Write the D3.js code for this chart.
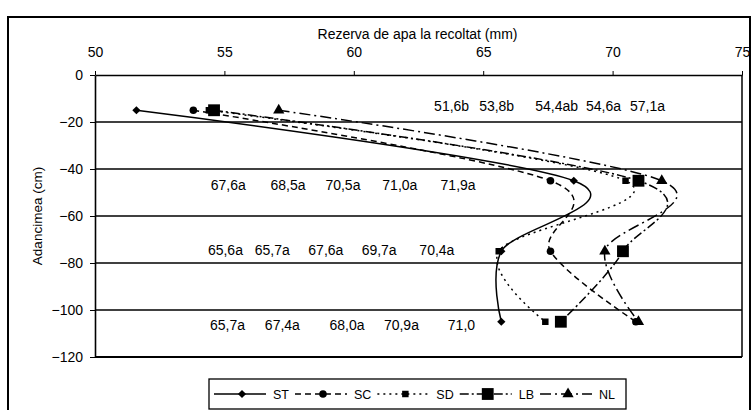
<!DOCTYPE html>
<html>
<head>
<meta charset="utf-8">
<script src="https://cdn.jsdelivr.net/npm/d3@7"></script>
<style>
  html, body { margin: 0; padding: 0; background: #fff; }
  svg text { font-family: "Liberation Sans", Arial, sans-serif; fill: #000; }
</style>
</head>
<body>
<svg id="chart" width="753" height="410"></svg>
<script>
// ---- data ----
const depths = [-15, -45, -75, -105];
const seriesNames = ["ST", "SC", "SD", "LB", "NL"];
const ST = [51.6, 68.5, 65.7, 65.7];
const SC = [53.8, 67.6, 67.6, 70.9];
const SD = [54.4, 70.5, 65.6, 67.4];
const LB = [54.6, 71.0, 70.4, 68.0];
const NL = [57.1, 71.9, 69.7, 71.0];
const xTicks = [50, 55, 60, 65, 70, 75];
const yTicks = [0, -20, -40, -60, -80, -100, -120];
const xTitle = "Rezerva de apa la recoltat (mm)";
const yTitle = "Adancimea (cm)";
// annotation texts per depth row
const labels15 = ["51,6b", "53,8b", "54,4ab", "54,6a", "57,1a"];
const labels45 = ["67,6a", "68,5a", "70,5a", "71,0a", "71,9a"];
const labels75 = ["65,6a", "65,7a", "67,6a", "69,7a", "70,4a"];
const labels105 = ["65,7a", "67,4a", "68,0a", "70,9a", "71,0"];
// annotation anchor positions (data units)
const annX15 = [63.78, 65.52, 67.84, 69.65, 71.35];
const annX45 = [55.15, 57.46, 59.58, 61.78, 64.03];
const annX75 = [55.04, 56.85, 58.92, 60.98, 63.21];
const annX105 = [55.12, 57.24, 59.74, 61.84, 64.16];
const annY = [-13.3, -46.9, -74.3, -106.4];

const svg = d3.select("#chart");
const plot = { left: 95, right: 742, top: 75, bottom: 357 };

// outer border
svg.append("rect").attr("x", 8).attr("y", 17).attr("width", 742).attr("height", 400)
  .attr("fill", "none").attr("stroke", "#000").attr("stroke-width", 2);

const x = d3.scaleLinear().domain([50, 75]).range([plot.left, plot.right]);
const y = d3.scaleLinear().domain([0, -120]).range([plot.top, plot.bottom]);

// gridlines
svg.append("g").selectAll("line").data(yTicks.filter(d => d !== 0 && d !== -120)).join("line")
  .attr("x1", plot.left).attr("x2", plot.right)
  .attr("y1", d => y(d)).attr("y2", d => y(d))
  .attr("stroke", "#000").attr("stroke-width", 1.3);

// bottom and right plot borders
svg.append("line").attr("x1", plot.left).attr("x2", plot.right)
  .attr("y1", y(-120)).attr("y2", y(-120)).attr("stroke", "#000").attr("stroke-width", 2);
svg.append("line").attr("x1", plot.right).attr("x2", plot.right)
  .attr("y1", plot.top).attr("y2", plot.bottom).attr("stroke", "#000").attr("stroke-width", 1.5);

// top axis
const gx = svg.append("g").attr("transform", `translate(0,${plot.top})`)
  .call(d3.axisTop(x).tickValues(xTicks).tickSizeInner(4).tickSizeOuter(0).tickPadding(14).tickFormat(d3.format("d")));
gx.select(".domain").attr("stroke", "#000").attr("stroke-width", 1.6);
gx.selectAll(".tick line").attr("stroke", "#000");
gx.selectAll(".tick text").attr("font-size", 14).attr("font-family", "Liberation Sans, Arial, sans-serif");

// left axis
const gy = svg.append("g").attr("transform", `translate(${plot.left},0)`)
  .call(d3.axisLeft(y).tickValues(yTicks).tickSizeInner(5).tickSizeOuter(0).tickPadding(7).tickFormat(d3.format("d")));
gy.select(".domain").attr("stroke", "#000").attr("stroke-width", 1.6);
gy.selectAll(".tick line").attr("stroke", "#000");
gy.selectAll(".tick text").attr("font-size", 14).attr("font-family", "Liberation Sans, Arial, sans-serif");

// titles
svg.append("text").attr("x", (plot.left + plot.right) / 2 - 1).attr("y", 39)
  .attr("text-anchor", "middle").attr("font-size", 14).text(xTitle);
svg.append("text").attr("transform", `translate(42,${(plot.top + plot.bottom) / 2}) rotate(-90)`)
  .attr("text-anchor", "middle").attr("font-size", 13.5).text(yTitle);

// series styles
const styles = {
  ST: { dash: null, marker: "diamond", size: 34 },
  SC: { dash: "6,4", marker: "circle", size: 45 },
  SD: { dash: "2,4", marker: "square", size: 42 },
  LB: { dash: "9,3,2,3", marker: "square", size: 140 },
  NL: { dash: "11,4,2,4", marker: "triangle", size: 55 }
};
const seriesData = { ST, SC, SD, LB, NL };
const symbolFor = { diamond: d3.symbolSquare, circle: d3.symbolCircle, square: d3.symbolSquare, triangle: d3.symbolTriangle };
const rot = m => (m === "diamond" ? " rotate(45)" : "");

const line = d3.line().x(d => x(d[0])).y(d => y(d[1])).curve(d3.curveCatmullRom.alpha(0));

const gSeries = svg.append("g");
seriesNames.forEach(name => {
  const pts = seriesData[name].map((v, i) => [v, depths[i]]);
  gSeries.append("path").datum(pts).attr("d", line)
    .attr("fill", "none").attr("stroke", "#000").attr("stroke-width", 1.5)
    .attr("stroke-dasharray", styles[name].dash);
});
seriesNames.forEach(name => {
  const pts = seriesData[name].map((v, i) => [v, depths[i]]);
  const st = styles[name];
  gSeries.append("g").selectAll("path").data(pts).join("path")
    .attr("transform", d => `translate(${x(d[0])},${y(d[1])})${rot(st.marker)}`)
    .attr("d", d3.symbol().type(symbolFor[st.marker]).size(st.size))
    .attr("fill", "#000");
});

// annotations
const annRows = [[labels15, annX15], [labels45, annX45], [labels75, annX75], [labels105, annX105]];
const gAnn = svg.append("g");
annRows.forEach(([labs, xs], r) => {
  gAnn.selectAll(null).data(labs).join("text")
    .attr("x", (d, i) => x(xs[i])).attr("y", y(annY[r]))
    .attr("dy", "0.36em").attr("text-anchor", "middle").attr("font-size", 14)
    .text(d => d);
});

// legend
const lg = svg.append("g");
const legBox = { x: 209, y: 379, w: 417, h: 30 };
lg.append("rect").attr("x", legBox.x).attr("y", legBox.y).attr("width", legBox.w).attr("height", legBox.h)
  .attr("fill", "#fff").attr("stroke", "#000").attr("stroke-width", 1.3);
let cx = 214;
const ly = 394;
seriesNames.forEach(name => {
  const st = styles[name];
  lg.append("line").attr("x1", cx).attr("x2", cx + 52).attr("y1", ly).attr("y2", ly)
    .attr("stroke", "#000").attr("stroke-width", 1.5).attr("stroke-dasharray", st.dash);
  lg.append("path").attr("transform", `translate(${cx + 28},${ly})${rot(st.marker)}`)
    .attr("d", d3.symbol().type(symbolFor[st.marker]).size(st.size)).attr("fill", "#000");
  const t = lg.append("text").attr("x", cx + 59).attr("y", ly).attr("dy", "0.36em")
    .attr("font-size", 12.5).text(name);
  cx = cx + 59 + t.node().getComputedTextLength() + 6;
});
</script>
</body>
</html>
